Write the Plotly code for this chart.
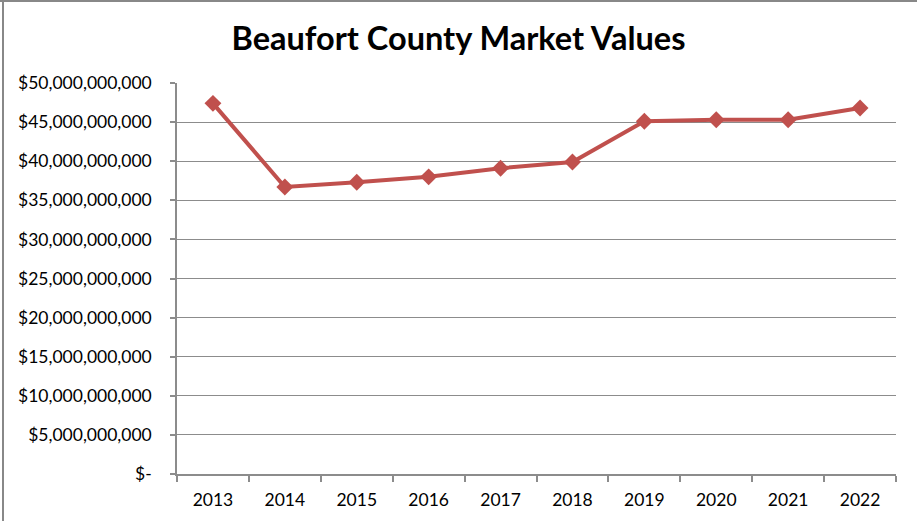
import plotly.graph_objects as go

# data
years = ["2013", "2014", "2015", "2016", "2017", "2018", "2019", "2020", "2021", "2022"]
market_values = [47.4e9, 36.7e9, 37.3e9, 38.0e9, 39.1e9, 39.9e9, 45.1e9, 45.3e9, 45.3e9, 46.8e9]

y_tickvals = [0, 5e9, 10e9, 15e9, 20e9, 25e9, 30e9, 35e9, 40e9, 45e9, 50e9]
y_ticktext = ["$-"] + ["${:,.0f}".format(v) for v in y_tickvals[1:]]

font_family = "Lato, 'Open Sans', sans-serif"
grid_col = "#8c8c8c"

fig = go.Figure()
fig.add_trace(go.Scatter(
    x=years, y=market_values, mode="lines+markers",
    line=dict(color="#C0504D", width=4),
    marker=dict(symbol="diamond", size=13, color="#C0504D"),
    showlegend=False, hoverinfo="x+y"))

fig.update_layout(
    width=917, height=521,
    margin=dict(l=177, r=21, t=83, b=47),
    paper_bgcolor="white", plot_bgcolor="white",
    font=dict(family=font_family, size=17.5, color="#000000"),
    title=dict(text="<b>Beaufort County Market Values</b>", xref="container", x=0.5,
               xanchor="center", y=0.925, yanchor="middle",
               font=dict(family=font_family, size=32.5, color="#000000")),
    xaxis=dict(type="category", range=[-0.5, 9.5], tickson="boundaries",
               ticks="outside", ticklen=6, tickcolor=grid_col, tickwidth=1.5,
               showline=True, linecolor=grid_col, linewidth=1.5,
               showgrid=False, ticklabelstandoff=9),
    yaxis=dict(range=[0, 50e9], tickvals=y_tickvals, ticktext=y_ticktext,
               ticks="outside", ticklen=5, tickcolor=grid_col, tickwidth=1.5,
               showline=True, linecolor=grid_col, linewidth=1.5,
               showgrid=True, gridcolor=grid_col, gridwidth=1.2,
               zeroline=False, ticklabelstandoff=15),
    shapes=[
        dict(type="line", xref="paper", yref="paper", x0=-177/719, x1=(917-177)/719,
             y0=1 + 82/391, y1=1 + 82/391, line=dict(color="#888888", width=2)),
        dict(type="line", xref="paper", yref="paper", x0=-174/719, x1=-174/719,
             y0=-47/391, y1=1 + 83/391, line=dict(color="#888888", width=2)),
    ],
)

# remove the default page margin so the figure sits at the window's corner
fig.write_html("out.html", config={"displayModeBar": False},
               post_script="document.body.style.margin='0';")
